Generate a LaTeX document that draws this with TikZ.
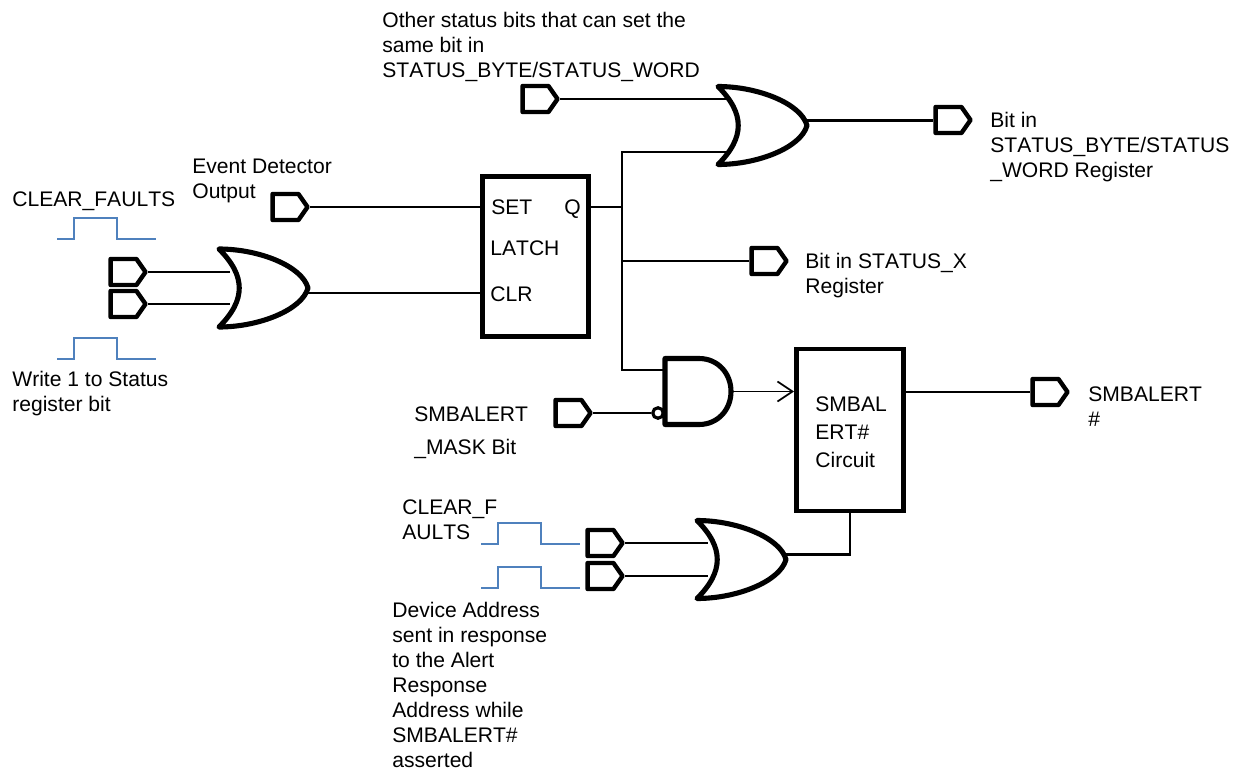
\documentclass[tikz,border=0pt]{standalone}
\usepackage{fontspec}
\setmainfont{Liberation Sans}[Kerning=Off]
\usetikzlibrary{shapes.symbols, arrows.meta}
\definecolor{pulseblue}{HTML}{4F81BD}
\tikzset{
	wire/.style = {line width = 1.3pt},
	gateline/.style = {line width = 2.9pt, line join = round},
	label/.style = {anchor = west, align = left, inner sep = 0pt, font = \fontsize{12}{14.2}\selectfont},
	port/.style = {draw, line width = 2.5pt, line join = round, shape = signal, signal to = east, signal pointer angle = 110, minimum width = 0.70cm, minimum height = 0.52cm, inner sep = 0pt},
	block/.style = {draw, line width = 2.8pt, inner sep = 0pt},
	bubble/.style = {draw, fill = white, line width = 1.8pt, shape = circle, minimum size = 0.21cm, inner sep = 0pt},
	pics/orgate/.style = {code = {
		\draw[gateline] (0,-39) .. controls (27,-12) and (27,12) .. (0,39) .. controls (40,39) and (83,22) .. (89,0) .. controls (83,-22) and (40,-39) .. (0,-39) -- cycle;
		\coordinate (-back) at (11,0);
		\coordinate (-out) at (89,#1);
	}},
	pics/andgate/.style = {code = {
		\draw[gateline] (0,-33) -- (34,-33) .. controls (53,-33) and (66,-18) .. (66,0) .. controls (66,18) and (53,33) .. (34,33) -- (0,33) -- cycle;
		\coordinate (-ina) at (0,-21.5);
		\coordinate (-out) at (66,0);
	}},
	pics/pulse/.style = {code = {
		\draw[line width = 1.15pt, pulseblue] (0,0) -- (#1,0) -- (#1,-21) -- (#1+43,-21) -- (#1+43,0) -- (#1+82,0);
	}},
}

\begin{document}
\begin{tikzpicture}[x = 0.02cm, y = -0.02cm]
	\useasboundingbox (0,0) rectangle (1240,770);

	\node[block, minimum width = 2.13cm, minimum height = 3.2cm] (latch) at (535.5,256.5) {};
	\node[block, minimum width = 2.14cm, minimum height = 3.24cm] (alertckt) at (850,430) {};

	\pic (orA) at (219,288) {orgate = 5};
	\pic (orB) at (718,125.5) {orgate = -5};
	\pic (orC) at (697,559.5) {orgate = -5};
	\pic (andA) at (665,391.5) {andgate};

	\node[port] (otherbits) at (535.5,99) {};
	\node[port] (bitword) at (948.5,120) {};
	\node[port] (evdet) at (285.5,207) {};
	\node[port] (clrA) at (123.5,272) {};
	\node[port] (wrA) at (123.5,304) {};
	\node[port] (bitx) at (764.5,261) {};
	\node[port] (alertout) at (1045.5,392) {};
	\node[port] (mask) at (568.5,413) {};
	\node[port] (clrB) at (600.5,543) {};
	\node[port] (devaddr) at (600.5,576) {};
	\node[bubble] (maskinv) at (658,413) {};

	\coordinate (qjoin) at (622,207);

	\draw[wire] (otherbits.east) -- (otherbits -| orB-back);
	\draw[wire] (orB-out) -- (orB-out -| bitword.west);
	\draw[wire] (evdet.east) -- (evdet -| latch.west);
	\draw[wire] (clrA.east) -- (clrA -| orA-back);
	\draw[wire] (wrA.east) -- (wrA -| orA-back);
	\draw[wire] (orA-out) -- (orA-out -| latch.west);
	\draw[wire] (qjoin -| latch.east) -- (qjoin);
	\draw[wire] (orB-back |- 0,152) -| (qjoin) |- (andA-ina);
	\draw[wire] (qjoin |- bitx) -- (bitx.west);
	\draw[wire] (mask.east) -- (maskinv.west);
	\draw[wire, line width = 1pt, -{Straight Barb[length = 0.3cm, width = 0.4cm]}] (andA-out) -- (andA-out -| alertckt.west);
	\draw[wire] (alertckt.east |- alertout) -- (alertout.west);
	\draw[wire] (clrB.east) -- (clrB -| orC-back);
	\draw[wire] (devaddr.east) -- (devaddr -| orC-back);
	\draw[wire] (orC-out) -| (alertckt.south);

	\pic at (57,239) {pulse = 17};
	\pic at (57,359) {pulse = 17};
	\pic at (481,544) {pulse = 17};
	\pic at (481,588) {pulse = 17};

	\node[label] (otherlab) at (382,47) {Other status bits that can set the\\same bit in\\STATUS\_BYTE/STATUS\_WORD};
	\node[label] (wordlab) at (990,147) {Bit in\\STATUS\_BYTE/STATUS\\\_WORD Register};
	\node[label] (evlab) at (192,181) {Event Detector\\Output};
	\node[label] (clrlab) at (12,201) {CLEAR\_FAULTS};
	\node[label] (wrlab) at (12,394) {Write 1 to Status\\register bit};
	\node[label] (setlab) at (491,207) {SET};
	\node[label] (qlab) at (564,209) {Q};
	\node[label] (latchlab) at (490,248) {LATCH};
	\node[label] (clrpin) at (490,294) {CLR};
	\node[label] (xlab) at (805,276) {Bit in STATUS\_X\\Register};
	\node[label] (cktlab) at (815,432) {SMBAL\\[0.06cm]ERT\#\\[0.06cm]Circuit};
	\node[label] (alertlab) at (1088,407) {SMBALERT\\\#};
	\node[label] (masklab) at (414,432.5) {SMBALERT\\[0.16cm]\_MASK Bit};
	\node[label] (clrblab) at (402,520) {CLEAR\_F\\AULTS};
	\node[label] (devlab) at (392,685) {Device Address\\sent in response\\to the Alert\\Response\\Address while\\SMBALERT\#\\asserted};
\end{tikzpicture}
\end{document}
